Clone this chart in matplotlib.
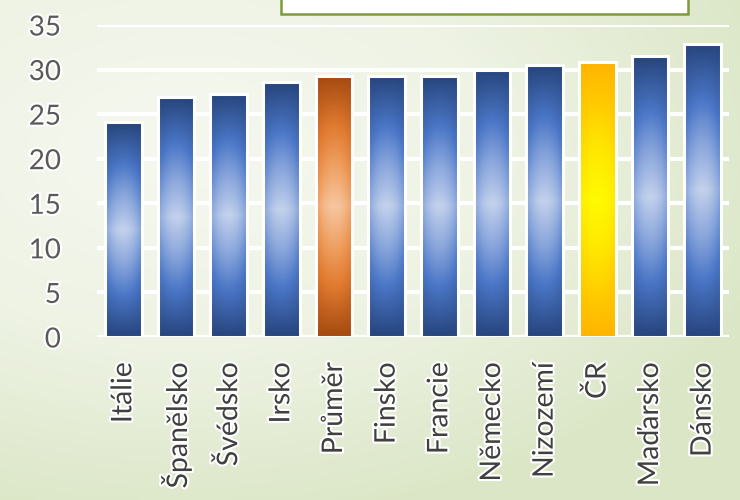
import numpy as np
import matplotlib
matplotlib.use("Agg")
import matplotlib.pyplot as plt
from matplotlib.colors import LinearSegmentedColormap
from matplotlib.patches import Rectangle
import matplotlib.patheffects as pe

categories = ["Itálie", "Španělsko", "Švédsko", "Irsko", "Průměr", "Finsko",
              "Francie", "Německo", "Nizozemí", "ČR", "Maďarsko", "Dánsko"]
values = [24.1, 26.9, 27.3, 28.6, 29.3, 29.3, 29.3, 30.0, 30.5, 30.8, 31.5, 32.9]
kinds = ["blue", "blue", "blue", "blue", "orange", "blue",
         "blue", "blue", "blue", "yellow", "blue", "blue"]
yticks = [0, 5, 10, 15, 20, 25, 30, 35]

plt.rcParams['font.family'] = ['Lato', 'DejaVu Sans']

cmaps = {
    "blue": LinearSegmentedColormap.from_list("b", [(0, "#c3d1ec"), (0.35, "#84a2da"), (0.62, "#4a76c6"), (1, "#27457d")]),
    "orange": LinearSegmentedColormap.from_list("o", [(0, "#f7c6a0"), (0.35, "#ee9c5c"), (0.62, "#e07a30"), (1, "#a44a10")]),
    "yellow": LinearSegmentedColormap.from_list("y", [(0, "#fffb00"), (0.4, "#ffe600"), (0.7, "#ffcc00"), (1, "#ffb400")]),
}

fig = plt.figure(figsize=(7.4, 5), dpi=100)

# background gradient
bg = fig.add_axes([0, 0, 1, 1], zorder=-10)
yy, xx = np.mgrid[0:1:250j, 0:1:370j]
d = np.sqrt(((xx - 0.25) / 1.0) ** 2 + ((yy - 0.3) / 0.9) ** 2)
d = np.clip(d / 0.85, 0, 1)
bgcm = LinearSegmentedColormap.from_list("bg", [(0, "#f6f8f0"), (0.5, "#eef3e4"), (1, "#dbe6c6")])
bg.imshow(d, cmap=bgcm, extent=[0, 1, 1, 0], aspect="auto", vmin=0, vmax=1)
bg.set_xlim(0, 1); bg.set_ylim(1, 0)
bg.axis("off")

# top box
box = Rectangle((281 / 740, 1 - 14 / 500), (688 - 281) / 740, 20 / 500, transform=fig.transFigure,
                facecolor="white", edgecolor="#7d9b3c", linewidth=1.8, zorder=5)
fig.patches.append(box)

ax = fig.add_axes([97 / 740, 1 - 337 / 500, (729 - 97) / 740, (337 - 25) / 500])
ax.patch.set_alpha(0)
x = np.arange(len(categories))
bars = ax.bar(x, values, width=0.7, color="none", edgecolor="white", linewidth=2.2, zorder=3)

ny, nx = 200, 60
for b, k in zip(bars, kinds):
    x0, w = b.get_x(), b.get_width()
    h = b.get_height()
    vy = np.abs(np.linspace(-1, 1, ny))[:, None]
    hx = np.abs(np.linspace(-1, 1, nx))[None, :]
    g = np.clip(np.maximum(vy, 0.0) + 0.35 * hx ** 2 * (1 - vy), 0, 1)
    im = ax.imshow(g, cmap=cmaps[k], vmin=0, vmax=1, extent=[x0, x0 + w, 0, h],
                   aspect="auto", zorder=2, interpolation="bilinear")
    im.set_clip_path(b)

ax.set_xlim(-0.5, len(categories) - 0.5)
ax.set_ylim(0, 35)
ax.set_yticks(yticks)
ax.set_xticks(x)
ax.set_xticklabels(categories, rotation=90, fontsize=20.5, color="#404040")
ax.set_yticklabels([str(t) for t in yticks], fontsize=20, color="#5a5a5a")
ax.tick_params(axis="x", length=0, pad=18)
ax.tick_params(axis="y", length=0, pad=26)
for lab in ax.get_xticklabels() + ax.get_yticklabels():
    lab.set_path_effects([pe.withStroke(linewidth=3, foreground="white")])
for s in ax.spines.values():
    s.set_visible(False)
ax.yaxis.grid(True, color="white", linewidth=3, zorder=1)
ax.set_axisbelow(True)
ax.axhline(0, color="white", linewidth=3, zorder=1)

fig.savefig("out.png", dpi=100)
